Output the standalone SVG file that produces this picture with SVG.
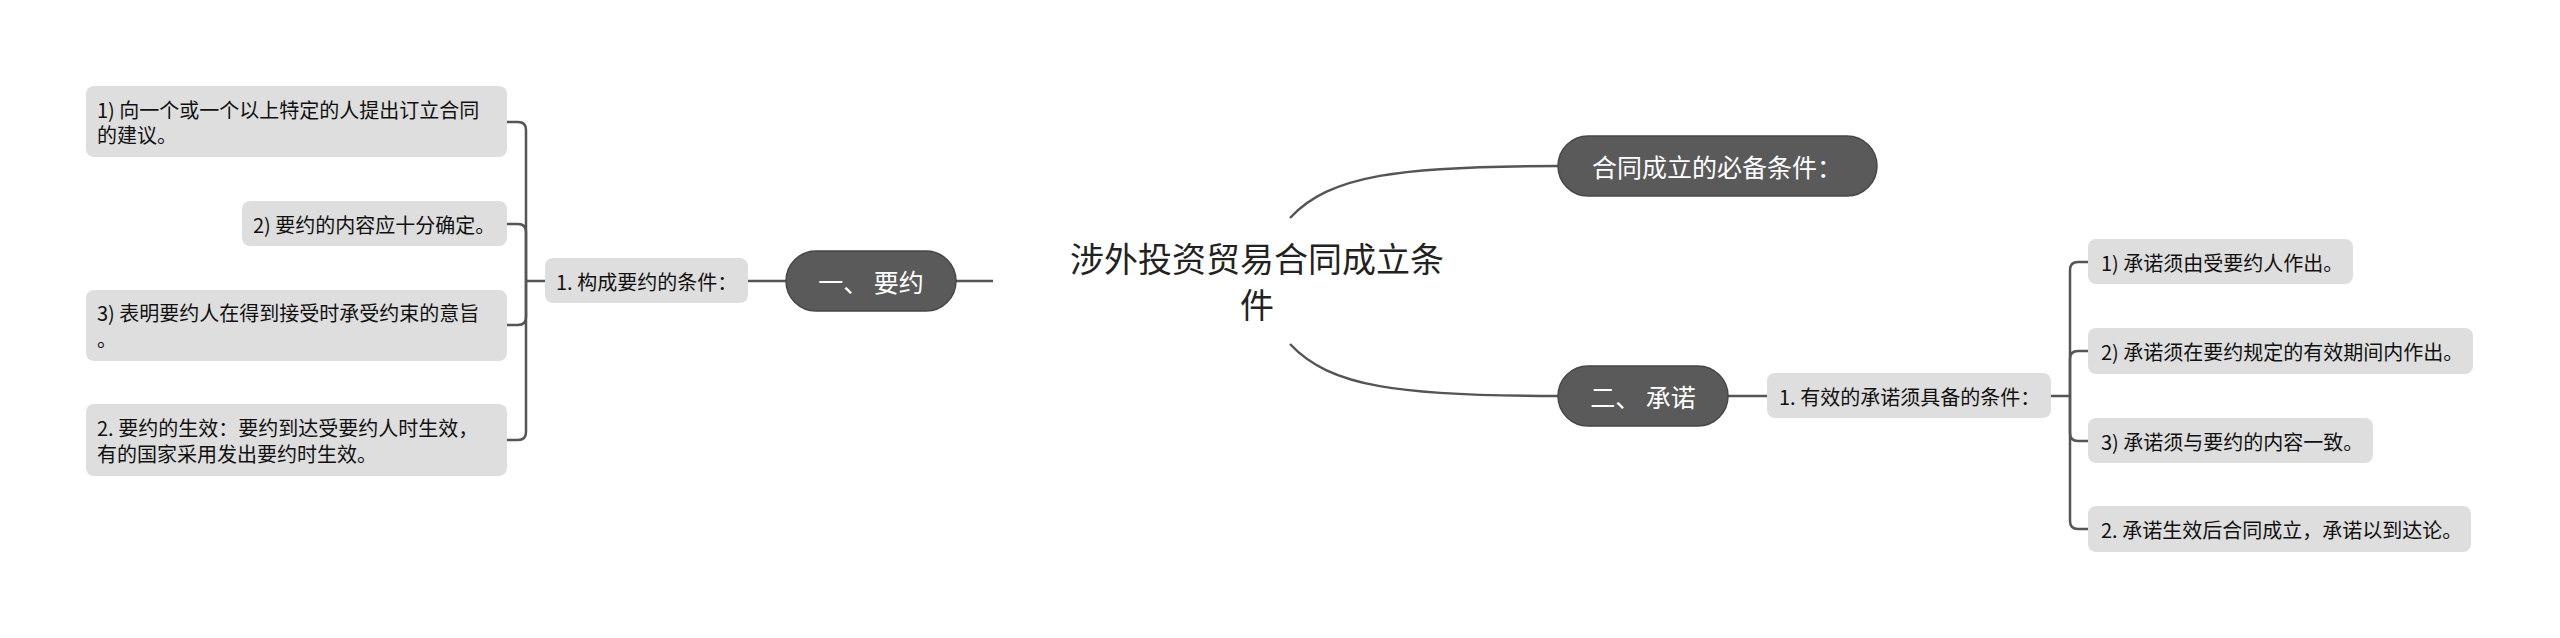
<svg xmlns="http://www.w3.org/2000/svg" width="2560" height="638" viewBox="0 0 2560 638">
<style>
.bg{fill:#ffffff}
.box{fill:#dedede}
.pill{fill:#5a5a5a;stroke:#474747;stroke-width:1.5}
.t{font-family:"Noto Sans CJK SC","Noto Sans",sans-serif;font-size:20px;fill:#111111;dominant-baseline:central}
.pt{font-family:"Noto Sans CJK SC","Noto Sans",sans-serif;font-size:25px;fill:#ffffff;dominant-baseline:central;text-anchor:middle}
.root{font-family:"Noto Sans CJK SC","Noto Sans",sans-serif;font-size:34px;fill:#222222;dominant-baseline:central;text-anchor:middle}
.link{fill:none;stroke:#555555;stroke-width:2.5}
</style>
<rect class="bg" x="0" y="0" width="2560" height="638"/>
<g id="connectors">
  <path class="link" d="M1290,218 C1330,175 1400,166 1558,166"/>
  <path class="link" d="M1290,344 C1330,387 1400,396 1558,396"/>
  <path class="link" d="M956,281 H993"/>
  <path class="link" d="M748,281 H786"/>
  <path class="link" d="M545,281 H526"/>
  <path class="link" d="M526,281 V130 Q526,122 518,122 H507"/>
  <path class="link" d="M526,281 V232 Q526,224 518,224 H507"/>
  <path class="link" d="M526,281 V317 Q526,325 518,325 H507"/>
  <path class="link" d="M526,281 V432 Q526,440 518,440 H507"/>
  <path class="link" d="M1728,396 H1767"/>
  <path class="link" d="M2051,396 H2070"/>
  <path class="link" d="M2070,396 V270 Q2070,262 2078,262 H2088"/>
  <path class="link" d="M2070,396 V359 Q2070,351 2078,351 H2088"/>
  <path class="link" d="M2070,396 V433 Q2070,441 2078,441 H2088"/>
  <path class="link" d="M2070,396 V521 Q2070,529 2078,529 H2088"/>
</g>
<g id="root">
  <text class="root" x="1257" y="257">涉外投资贸易合同成立条</text>
  <text class="root" x="1257" y="303">件</text>
</g>
<g id="n-biyao">
  <rect class="pill" x="1558" y="136" width="319" height="60" rx="30"/>
  <text class="pt" x="1717" y="166">合同成立的必备条件：</text>
</g>
<g id="n-yaoyue">
  <rect class="pill" x="786" y="251" width="170" height="60" rx="30"/>
  <text class="pt" x="871" y="281">一、 要约</text>
</g>
<g id="n-goucheng">
  <rect class="box" x="545" y="258" width="203" height="45" rx="8"/>
  <text class="t" x="556" y="281">1. 构成要约的条件：</text>
</g>
<g id="n-l1">
  <rect class="box" x="86" y="86" width="421" height="71" rx="8"/>
  <text class="t" x="97" y="109">1) 向一个或一个以上特定的人提出订立合同</text>
  <text class="t" x="97" y="134">的建议。</text>
</g>
<g id="n-l2">
  <rect class="box" x="242" y="201" width="265" height="45" rx="8"/>
  <text class="t" x="253" y="224">2) 要约的内容应十分确定。</text>
</g>
<g id="n-l3">
  <rect class="box" x="86" y="290" width="421" height="71" rx="8"/>
  <text class="t" x="97" y="312">3) 表明要约人在得到接受时承受约束的意旨</text>
  <text class="t" x="97" y="338">。</text>
</g>
<g id="n-l4">
  <rect class="box" x="86" y="404" width="421" height="72" rx="8"/>
  <text class="t" x="97" y="427">2. 要约的生效：要约到达受要约人时生效，</text>
  <text class="t" x="97" y="453">有的国家采用发出要约时生效。</text>
</g>
<g id="n-chengnuo">
  <rect class="pill" x="1558" y="366" width="170" height="60" rx="30"/>
  <text class="pt" x="1643" y="396">二、 承诺</text>
</g>
<g id="n-youxiao">
  <rect class="box" x="1767" y="373" width="284" height="45" rx="8"/>
  <text class="t" x="1779" y="396">1. 有效的承诺须具备的条件：</text>
</g>
<g id="n-r1">
  <rect class="box" x="2088" y="239" width="265" height="45" rx="8"/>
  <text class="t" x="2101" y="262">1) 承诺须由受要约人作出。</text>
</g>
<g id="n-r2">
  <rect class="box" x="2088" y="328" width="385" height="46" rx="8"/>
  <text class="t" x="2101" y="351">2) 承诺须在要约规定的有效期间内作出。</text>
</g>
<g id="n-r3">
  <rect class="box" x="2088" y="418" width="285" height="45" rx="8"/>
  <text class="t" x="2101" y="441">3) 承诺须与要约的内容一致。</text>
</g>
<g id="n-r4">
  <rect class="box" x="2088" y="506" width="383" height="46" rx="8"/>
  <text class="t" x="2101" y="529">2. 承诺生效后合同成立，承诺以到达论。</text>
</g>
</svg>
